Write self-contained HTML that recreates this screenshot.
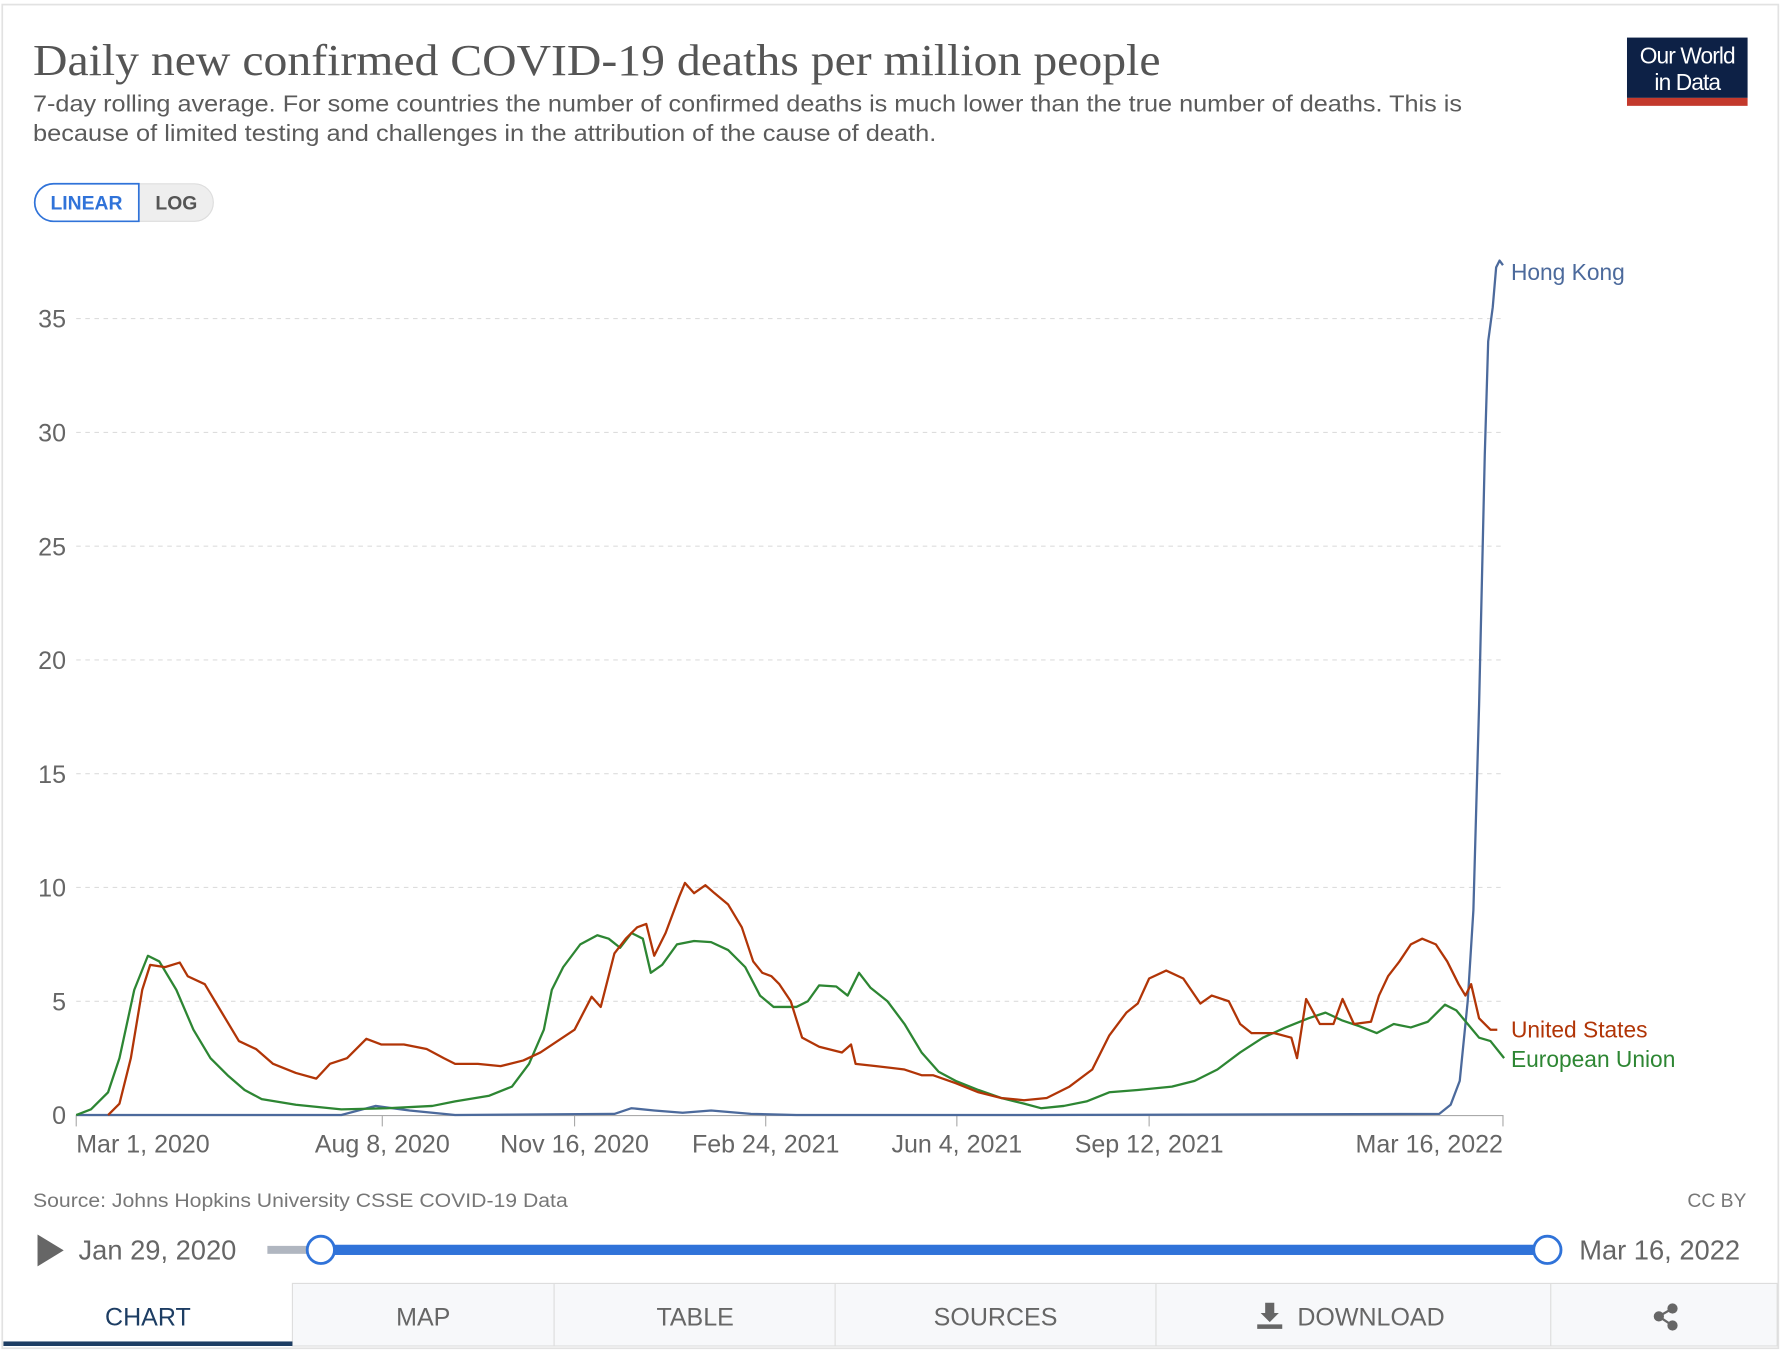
<!DOCTYPE html>
<html><head><meta charset="utf-8"><style>
html,body{margin:0;padding:0;background:#fff;}
svg{display:block;}
</style></head><body>
<svg width="1784" height="1354" viewBox="0 0 1568 1190" xmlns="http://www.w3.org/2000/svg" font-family="'Liberation Sans', sans-serif">
<rect x="0" y="0" width="1568" height="1190" fill="#fff"/>
<rect x="2" y="4" width="1561" height="1181" fill="#fff" stroke="#e2e2e2" stroke-width="1.5"/>
<text x="29" y="66" font-family="'Liberation Serif', serif" font-size="39" fill="#555" textLength="991" lengthAdjust="spacingAndGlyphs">Daily new confirmed COVID-19 deaths per million people</text>
<text x="29" y="98" font-size="20" fill="#5b5b5b" textLength="1256" lengthAdjust="spacingAndGlyphs">7-day rolling average. For some countries the number of confirmed deaths is much lower than the true number of deaths. This is</text>
<text x="29" y="124" font-size="20" fill="#5b5b5b" textLength="794" lengthAdjust="spacingAndGlyphs">because of limited testing and challenges in the attribution of the cause of death.</text>
<rect x="1430" y="33" width="106" height="53" fill="#0d2146"/>
<rect x="1430" y="86" width="106" height="7" fill="#c3392c"/>
<text x="1483" y="56" font-size="20" fill="#fff" text-anchor="middle" letter-spacing="-0.8">Our World</text>
<text x="1483" y="79" font-size="20" fill="#fff" text-anchor="middle" letter-spacing="-0.8">in Data</text>
<rect x="30.5" y="161.5" width="157" height="33" rx="16.5" fill="#eee" stroke="#ddd"/>
<path d="M122,161.5 H47 A16.5,16.5 0 0 0 47,194.5 H122 Z" fill="#fff" stroke="#3073d9" stroke-width="1.5"/>
<text x="76" y="184" font-size="17" font-weight="bold" fill="#3073d9" text-anchor="middle">LINEAR</text>
<text x="155" y="184" font-size="17" font-weight="bold" fill="#555" text-anchor="middle">LOG</text>
<g stroke="#ddd" stroke-dasharray="4,4" stroke-width="1">
<line x1="67" x2="1321" y1="880" y2="880"/><line x1="67" x2="1321" y1="780" y2="780"/>
<line x1="67" x2="1321" y1="680" y2="680"/><line x1="67" x2="1321" y1="580" y2="580"/>
<line x1="67" x2="1321" y1="480" y2="480"/><line x1="67" x2="1321" y1="380" y2="380"/>
<line x1="67" x2="1321" y1="280" y2="280"/>
</g>
<g font-size="22" fill="#666" text-anchor="end">
<text x="58" y="988">0</text><text x="58" y="888">5</text><text x="58" y="788">10</text>
<text x="58" y="688">15</text><text x="58" y="588">20</text><text x="58" y="488">25</text><text x="58" y="388">30</text><text x="58" y="288">35</text>
</g>
<line x1="67" x2="1321" y1="980.5" y2="980.5" stroke="#aaa"/>
<g stroke="#aaa"><line x1="67" x2="67" y1="980" y2="990"/><line x1="336" x2="336" y1="980" y2="990"/><line x1="505" x2="505" y1="980" y2="990"/><line x1="673" x2="673" y1="980" y2="990"/><line x1="841" x2="841" y1="980" y2="990"/><line x1="1010" x2="1010" y1="980" y2="990"/><line x1="1321" x2="1321" y1="980" y2="990"/></g>
<g font-size="22" fill="#666">
<text x="67" y="1013">Mar 1, 2020</text>
<text x="336" y="1013" text-anchor="middle">Aug 8, 2020</text>
<text x="505" y="1013" text-anchor="middle">Nov 16, 2020</text>
<text x="673" y="1013" text-anchor="middle">Feb 24, 2021</text>
<text x="841" y="1013" text-anchor="middle">Jun 4, 2021</text>
<text x="1010" y="1013" text-anchor="middle">Sep 12, 2021</text>
<text x="1321" y="1013" text-anchor="end">Mar 16, 2022</text>
</g>
<g fill="none" stroke-width="2" stroke-linejoin="round">
<polyline stroke="#4c6a9c" points="67,980 300,980 330,972 360,976 400,980 540,979 555,974 575,976 600,978 625,976 660,979 700,980 900,980 1265,979 1275,971 1283,950 1290,880 1295,800 1300,620 1305,400 1308,300 1312,270 1315,235 1318,229 1321,233"/>
<polyline stroke="#2d8633" points="67,980 80,975 95,960 105,930 118,870 130,840 140,845 155,870 170,905 185,930 200,945 215,958 230,966 260,971 300,975 340,974 380,972 400,968 430,963 450,955 465,935 478,905 485,870 495,850 510,830 525,822 535,825 545,833 555,820 565,825 572,855 582,848 595,830 610,827 625,828 640,835 655,850 668,875 680,885 700,885 710,880 720,866 735,867 745,875 755,855 765,868 780,880 795,900 810,925 825,942 840,950 860,958 880,965 900,970 915,974 935,972 955,968 975,960 1000,958 1030,955 1050,950 1070,940 1090,925 1110,912 1130,903 1150,895 1165,890 1180,897 1195,902 1210,908 1225,900 1240,903 1255,898 1270,883 1280,888 1290,900 1300,912 1310,915 1322,930"/>
<polyline stroke="#b13507" points="95,980 105,970 115,930 125,870 132,848 145,850 158,846 165,858 180,865 195,890 210,915 225,922 240,935 260,943 278,948 290,935 305,930 322,913 335,918 355,918 375,922 390,930 400,935 420,935 440,937 460,932 475,925 490,915 505,905 520,876 528,885 540,838 550,825 560,815 568,812 575,840 585,820 597,788 602,776 610,785 620,778 628,785 640,795 652,815 662,845 670,855 678,858 685,865 695,880 705,912 720,920 740,925 748,918 752,935 770,937 795,940 810,945 820,945 840,952 860,960 880,965 900,967 920,965 940,955 960,940 975,910 990,890 1000,882 1010,860 1025,853 1040,860 1055,882 1065,875 1080,880 1090,900 1100,908 1120,908 1135,912 1140,930 1148,878 1160,900 1172,900 1180,878 1190,900 1205,898 1212,875 1220,858 1230,845 1240,830 1250,825 1262,830 1272,845 1282,865 1288,875 1293,865 1300,895 1310,905 1316,905"/>
</g>
<g font-size="20">
<text x="1328" y="246" fill="#4c6a9c">Hong Kong</text>
<text x="1328" y="912" fill="#b13507">United States</text>
<text x="1328" y="938" fill="#2d8633">European Union</text>
</g>
<text x="29" y="1061" font-size="17" fill="#777" textLength="470" lengthAdjust="spacingAndGlyphs">Source: Johns Hopkins University CSSE COVID-19 Data</text>
<text x="1535" y="1061" font-size="17" fill="#777" text-anchor="end">CC BY</text>
<path d="M33,1085 L56,1099 L33,1113 Z" fill="#666"/>
<text x="69" y="1107" font-size="24" fill="#666">Jan 29, 2020</text>
<rect x="235" y="1095" width="50" height="7" fill="#b0b6c0"/>
<rect x="282" y="1094" width="1078" height="9" fill="#3073d9"/>
<circle cx="282" cy="1098.5" r="12" fill="#fff" stroke="#3073d9" stroke-width="2.5"/>
<circle cx="1360" cy="1098.5" r="12" fill="#fff" stroke="#3073d9" stroke-width="2.5"/>
<text x="1388" y="1107" font-size="24" fill="#666">Mar 16, 2022</text>
<rect x="257" y="1128" width="1305" height="55" fill="#f7f8fa" stroke="#ddd"/>
<g stroke="#ddd"><line x1="487" x2="487" y1="1128" y2="1183"/><line x1="734" x2="734" y1="1128" y2="1183"/><line x1="1016" x2="1016" y1="1128" y2="1183"/><line x1="1363" x2="1363" y1="1128" y2="1183"/></g>
<rect x="3" y="1179" width="254" height="4" fill="#1d3d63"/>
<g font-size="22" text-anchor="middle">
<text x="130" y="1165" fill="#1d3d63">CHART</text>
<text x="372" y="1165" fill="#666">MAP</text>
<text x="611" y="1165" fill="#666">TABLE</text>
<text x="875" y="1165" fill="#666">SOURCES</text>
<text x="1205" y="1165" fill="#666">DOWNLOAD</text>
</g>
<path d="M1112,1145 h8 v9 h4 l-8,8 l-8,-8 h4 Z M1105,1164 h22 v4 h-22 Z" fill="#666"/>
<g fill="#666" stroke="#666" stroke-width="2"><circle cx="1470" cy="1150" r="3.5"/><circle cx="1458" cy="1157" r="3.5"/><circle cx="1470" cy="1165" r="3.5"/><line x1="1470" y1="1150" x2="1458" y2="1157"/><line x1="1458" y1="1157" x2="1470" y2="1165"/></g>
</svg>
</body></html>
